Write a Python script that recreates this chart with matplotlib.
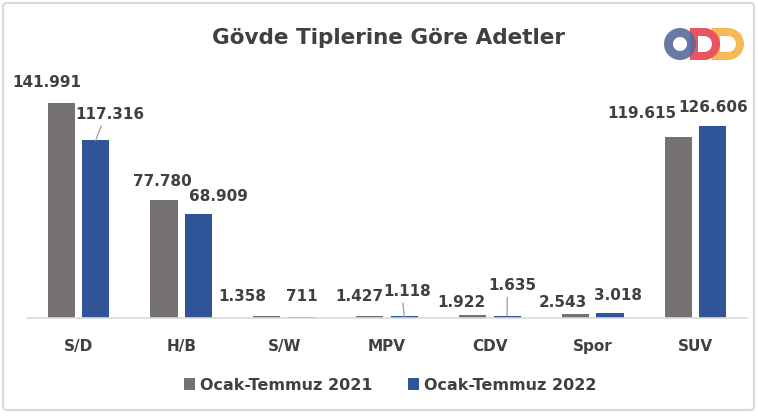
import numpy as np
import matplotlib
matplotlib.use("Agg")
import matplotlib.pyplot as plt
from matplotlib.patches import FancyBboxPatch, Wedge, Rectangle

# data
categories = ["S/D", "H/B", "S/W", "MPV", "CDV", "Spor", "SUV"]
v2021 = [141991, 77780, 1358, 1427, 1922, 2543, 119615]
v2022 = [117316, 68909, 711, 1118, 1635, 3018, 126606]
series_names = ["Ocak-Temmuz 2021", "Ocak-Temmuz 2022"]
title = "Gövde Tiplerine Göre Adetler"

# label offsets in pixels (x, y) from each bar top, and which get a leader line
off2021 = [(-14, 20), (-2, 19), (-25, 19), (-10, 19), (-11, 13), (-13, 12), (-36, 23)]
off2022 = [(14, 26), (20, 17), (0, 20), (3, 25), (5, 30), (8, 18), (0, 19)]
leader2022 = [True, False, False, True, True, False, False]

gray = "#767171"
blue = "#2F5597"
txt = "#404040"

W, H = 758, 416
fig = plt.figure(figsize=(W / 100, H / 100), dpi=100)

# main axes in pixel terms: left 27, right 747, baseline 318, top ~76
ax = fig.add_axes([27 / W, (H - 318) / H, 720 / W, 242.3 / H])
x = np.arange(len(categories))
bw = 0.263
d = 0.168
b1 = ax.bar(x - d, v2021, bw, color=gray, label=series_names[0])
b2 = ax.bar(x + d, v2022, bw, color=blue, label=series_names[1])
ax.set_xlim(-0.5, len(categories) - 0.5)
ax.set_ylim(0, 160000)

for s in ["left", "right", "top"]:
    ax.spines[s].set_visible(False)
ax.spines["bottom"].set_color("#d9d9d9")
ax.spines["bottom"].set_linewidth(1.2)
ax.set_yticks([])
ax.set_xticks(x)
ax.set_xticklabels(categories, fontsize=11, fontweight="bold", color=txt)
ax.tick_params(axis="x", length=0, pad=15)

def fmt(v):
    return f"{v:,}".replace(",", ".")

for i in range(len(categories)):
    ax.annotate(fmt(v2021[i]), (x[i] - d, v2021[i]), xytext=off2021[i],
                textcoords="offset pixels", ha="center", va="center",
                fontsize=11, fontweight="bold", color=txt)
    ap = None
    if leader2022[i]:
        ap = dict(arrowstyle="-", color="#a6a6a6", lw=1, shrinkA=1, shrinkB=0,
                  relpos=(0.4, 0.0))
    ax.annotate(fmt(v2022[i]), (x[i] + d, v2022[i]), xytext=off2022[i],
                textcoords="offset pixels", ha="center", va="center",
                fontsize=11, fontweight="bold", color=txt, arrowprops=ap)

fig.text(388 / W, 1 - 38 / H, title, ha="center", va="center",
         fontsize=15.5, fontweight="bold", color=txt)

fig.legend(handles=[b1, b2], labels=series_names, loc="center",
           bbox_to_anchor=(390 / W, 1 - 385 / H), ncol=2, frameon=False,
           prop={"size": 11.5, "weight": "bold"},
           handlelength=0.7, handleheight=0.7, handletextpad=0.3,
           columnspacing=2.2, labelcolor=txt)

# overlay in pixel coords for the frame and the logo
ov = fig.add_axes([0, 0, 1, 1], zorder=-1)
ov.set_xlim(0, W)
ov.set_ylim(H, 0)
ov.axis("off")
ov.add_patch(FancyBboxPatch((3, 3), W - 7, H - 9, boxstyle="round,pad=0,rounding_size=4",
                            fill=False, ec="#d9d9d9", lw=1.5))

lg = fig.add_axes([0, 0, 1, 1], zorder=3)
lg.set_xlim(0, W)
lg.set_ylim(H, 0)
lg.axis("off")
# orange D (back)
org = "#f7b955"
lg.add_patch(Rectangle((712, 28), 8, 32, color=org, lw=0))
lg.add_patch(Rectangle((719, 28), 10, 8, color=org, lw=0))
lg.add_patch(Rectangle((719, 52), 10, 8, color=org, lw=0))
lg.add_patch(Wedge((728, 44), 16, -90, 90, width=8, color=org, lw=0))
# red D
red = "#e9545e"
lg.add_patch(Rectangle((690, 28), 8, 32, color=red, lw=0))
lg.add_patch(Rectangle((697, 28), 8, 8, color=red, lw=0))
lg.add_patch(Rectangle((697, 52), 8, 8, color=red, lw=0))
lg.add_patch(Wedge((704, 44), 16, -90, 90, width=8, color=red, lw=0))
# blue O (front)
lg.add_patch(Wedge((680, 44), 16, 0, 360, width=9, color="#5a6a9a", alpha=0.9, lw=0))

fig.savefig("out.png", dpi=100)
